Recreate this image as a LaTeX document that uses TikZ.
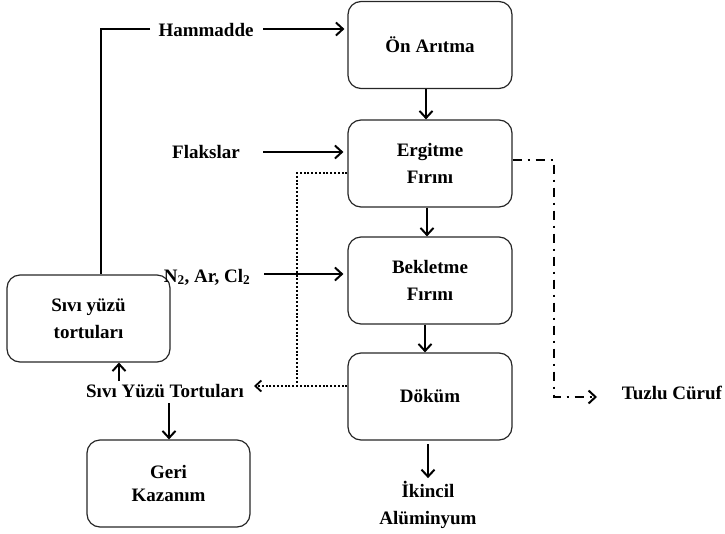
\documentclass[tikz,border=0pt]{standalone}
\usepackage{fontspec}
\setmainfont{Liberation Serif}
\usetikzlibrary{arrows.meta}
\tikzset{
  procbox/.style={draw=black!85, line width=1.2pt, rounded corners=13pt, minimum width=164pt, minimum height=87pt, align=center, inner sep=0pt},
  lbl/.style={inner sep=0pt, align=center},
  tip/.style={-{Straight Barb[length=7pt,width=13pt,line width=2pt]}},
  flow/.style={line width=2pt, tip},
  thinline/.style={line width=1.1pt},
  dotline/.style={line width=2pt, dash pattern=on 2pt off 1.8pt},
  dashdot/.style={line width=2pt, dash pattern=on 9pt off 6pt on 2pt off 6pt, tip},
}
\begin{document}
\begin{tikzpicture}[x=1pt,y=-1pt, font=\bfseries\fontsize{19}{27}\selectfont]
\useasboundingbox (0,0) rectangle (725,533);
% main boxes
\node[procbox] (on)  at (430,45)    {Ön Arıtma};
\node[procbox] (erg) at (430,163.5) {Ergitme\\Fırını};
\node[procbox] (bek) at (430,280.5) {Bekletme\\Fırını};
\node[procbox] (dok) at (430,396.5) {Döküm};
\node[procbox, minimum width=163pt] (siv) at (88.5,318.5) {Sıvı yüzü\\tortuları};
\node[procbox, minimum width=163pt, font=\bfseries\fontsize{19}{23}\selectfont] (geri) at (168.5,483.5) {Geri\\Kazanım};
% labels
\node[lbl] (ham) at (206,30) {Hammadde};
\node[lbl] (fla) at (206,152) {Flakslar};
\node[lbl] (gas) at (207,277) {N\textsubscript{2}, Ar, Cl\textsubscript{2}};
\node[lbl] (syt) at (165,391) {Sıvı Yüzü Tortuları};
\node[lbl] (tuz) at (672,393) {Tuzlu Cüruf};
\node[lbl] (ikn) at (428,505) {İkincil\\Alüminyum};
% inputs
\draw[flow, shorten >=3pt] (263,29) -- (on.west |- 0,29);
\draw[flow, shorten >=4pt] (263,152) -- (erg.west |- 0,152);
\draw[flow, shorten >=4pt] (264,274) -- (bek.west |- 0,274);
\draw[thinline] (150,29) -| ([xshift=12.5pt]siv.north);
% main chain
\draw[flow] (on.south -| 426,0) -- (erg.north -| 426,0);
\draw[flow] (erg.south -| 427,0) -- (bek.north -| 427,0);
\draw[flow] (bek.south -| 425,0) -- (dok.north -| 425,0);
\draw[flow] (428,444) -- ([yshift=3pt]ikn.north);
% dross
\draw[dotline] (erg.west |- 0,173) -- (297,173) -- (297,386);
\draw[dotline, -{Straight Barb[length=6pt,width=11pt,line width=1.8pt]}] (dok.west |- 0,386) -- (254,386);
\draw[flow] (119,381) -- (siv.south -| 119,0);
\draw[flow] (169,403) -- (geri.north -| 169,0);
% salt slag
\draw[dashdot] (erg.east |- 0,160) -- (554,160) -- (554,397) -- (597,397);
\end{tikzpicture}
\end{document}
